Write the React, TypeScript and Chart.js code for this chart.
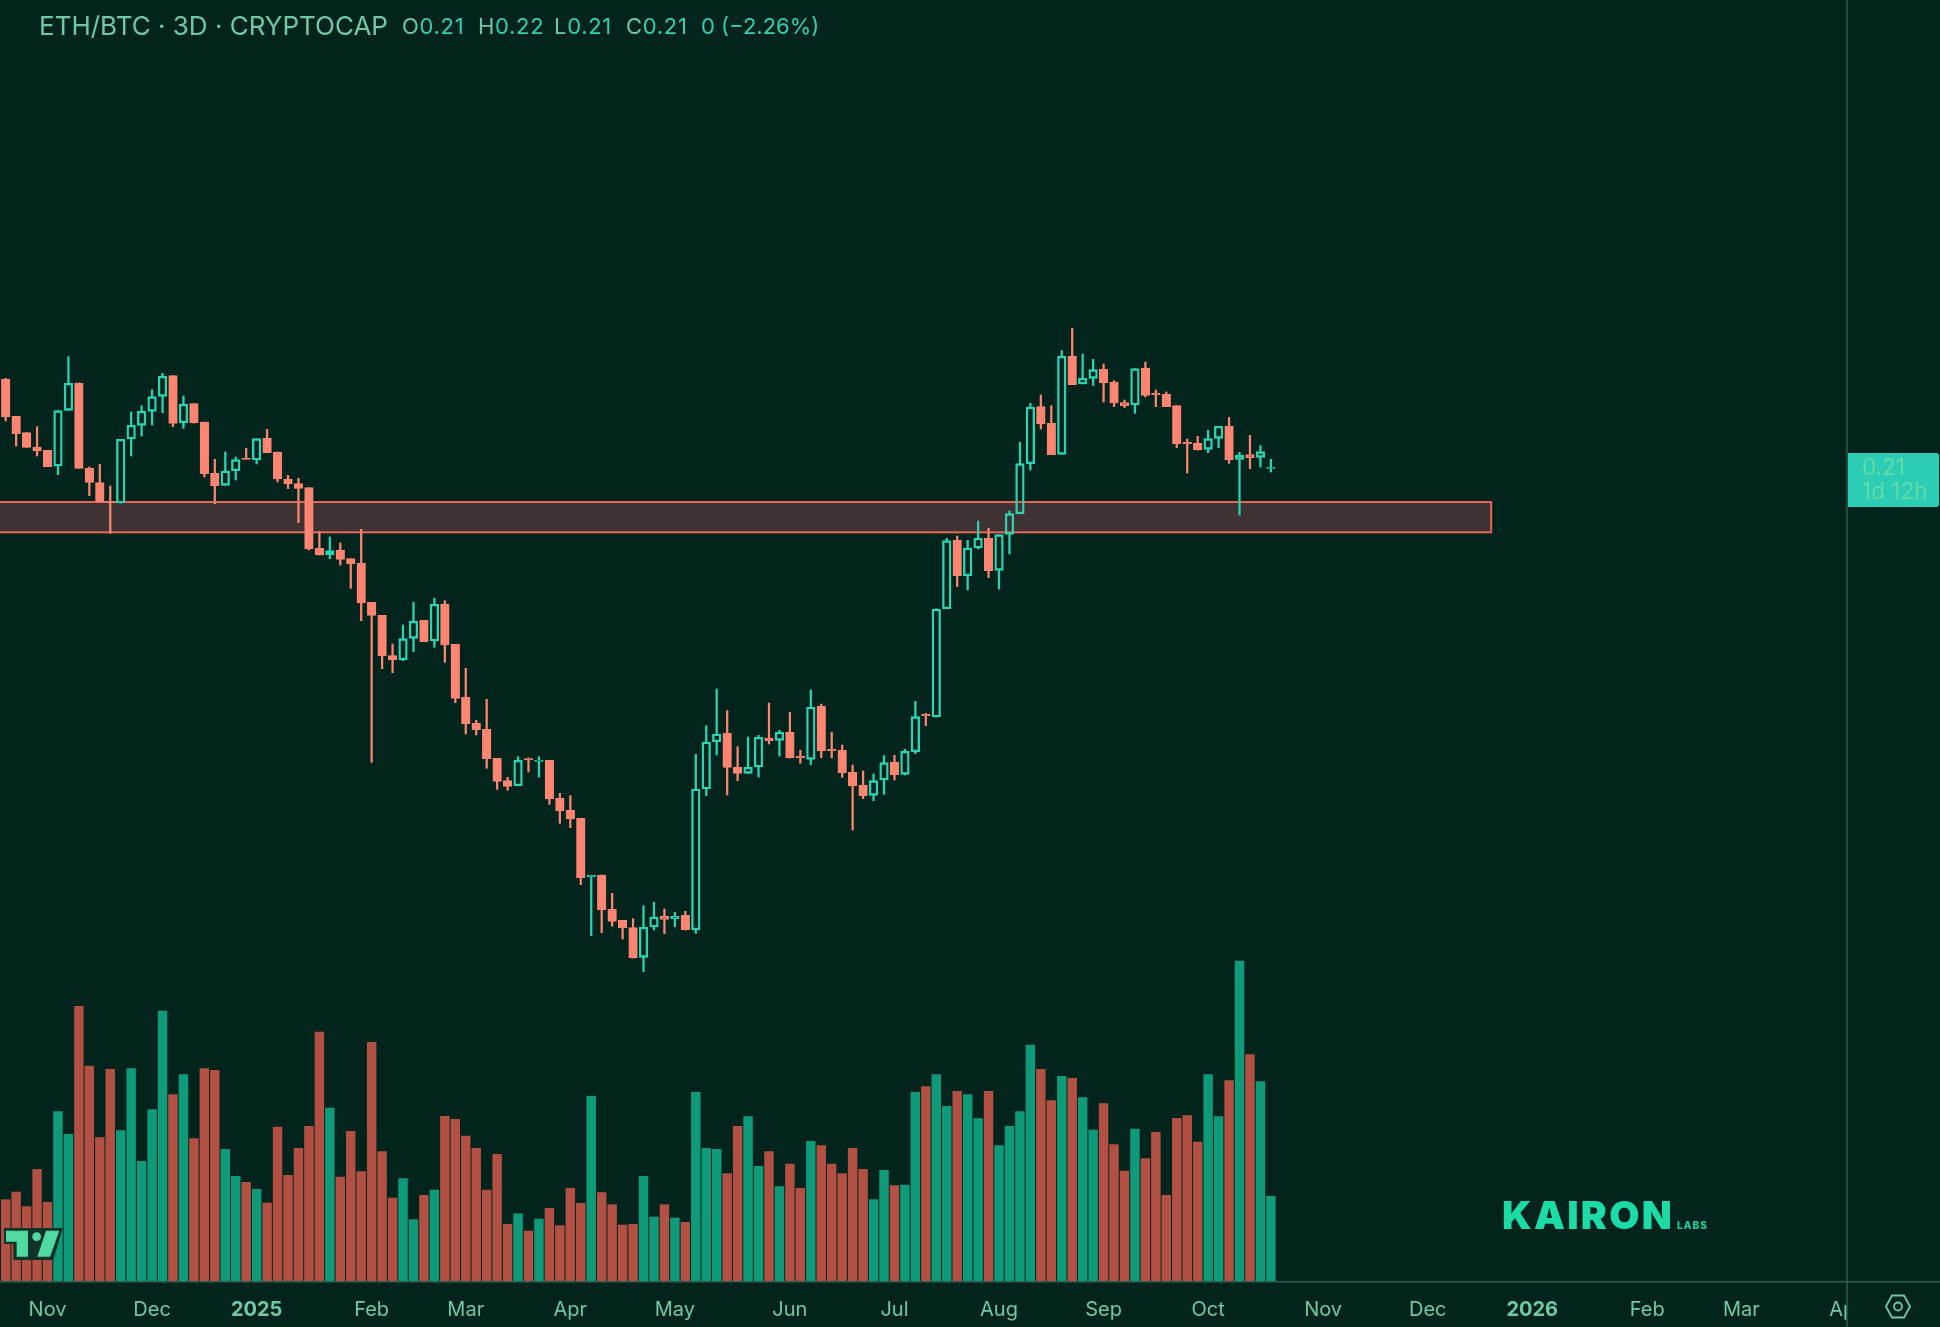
import React, { useEffect, useRef } from 'react';
import { Chart, registerables } from 'chart.js';

Chart.register(...registerables);

const opens = [
  0.2360, 0.2249, 0.2200, 0.2157, 0.2147, 0.2100, 0.2267, 0.2349, 0.2094, 0.2050,
  0.1993, 0.1989, 0.2181, 0.2222, 0.2264, 0.2309, 0.2371, 0.2230, 0.2287, 0.2232,
  0.2078, 0.2042, 0.2086, 0.2124, 0.2118, 0.2184, 0.2142, 0.2061, 0.2047, 0.2035,
  0.1853, 0.1834, 0.1848, 0.1822, 0.1809, 0.1691, 0.1652, 0.1531, 0.1519, 0.1583,
  0.1637, 0.1575, 0.1686, 0.1565, 0.1406, 0.1328, 0.1310, 0.1223, 0.1156, 0.1141,
  0.1222, 0.1214, 0.1217, 0.1104, 0.1067, 0.1043, 0.0867, 0.0873, 0.0770, 0.0737,
  0.0715, 0.0626, 0.0717, 0.0749, 0.0742, 0.0752, 0.0709, 0.1131, 0.1273, 0.1298,
  0.1197, 0.1178, 0.1197, 0.1284, 0.1277, 0.1302, 0.1229, 0.1220, 0.1380, 0.1250,
  0.1247, 0.1181, 0.1143, 0.1112, 0.1158, 0.1212, 0.1175, 0.1243, 0.1355, 0.1347,
  0.1672, 0.1877, 0.1771, 0.1854, 0.1884, 0.1787, 0.1895, 0.1957, 0.2107, 0.2278,
  0.2228, 0.2135, 0.2430, 0.2346, 0.2363, 0.2390, 0.2352, 0.2290, 0.2283, 0.2394,
  0.2319, 0.2315, 0.2281, 0.2171, 0.2168, 0.2150, 0.2183, 0.2220, 0.2120, 0.2134,
  0.2126, 0.2093,
];
const highs = [
  0.2363, 0.2249, 0.2200, 0.2218, 0.2147, 0.2266, 0.2428, 0.2349, 0.2097, 0.2105,
  0.2040, 0.2180, 0.2262, 0.2281, 0.2329, 0.2378, 0.2371, 0.2310, 0.2287, 0.2232,
  0.2120, 0.2142, 0.2127, 0.2153, 0.2182, 0.2210, 0.2142, 0.2072, 0.2063, 0.2035,
  0.1903, 0.1887, 0.1869, 0.1822, 0.1910, 0.1691, 0.1652, 0.1566, 0.1623, 0.1691,
  0.1637, 0.1703, 0.1696, 0.1565, 0.1493, 0.1337, 0.1400, 0.1223, 0.1166, 0.1228,
  0.1224, 0.1228, 0.1217, 0.1118, 0.1111, 0.1043, 0.0872, 0.0873, 0.0818, 0.0737,
  0.0742, 0.0781, 0.0791, 0.0771, 0.0761, 0.0764, 0.1235, 0.1321, 0.1431, 0.1366,
  0.1258, 0.1287, 0.1292, 0.1389, 0.1307, 0.1361, 0.1247, 0.1428, 0.1386, 0.1301,
  0.1263, 0.1203, 0.1185, 0.1176, 0.1231, 0.1232, 0.1250, 0.1394, 0.1358, 0.1672,
  0.1883, 0.1890, 0.1877, 0.1935, 0.1913, 0.1894, 0.1965, 0.2171, 0.2288, 0.2313,
  0.2281, 0.2446, 0.2513, 0.2436, 0.2420, 0.2406, 0.2356, 0.2298, 0.2392, 0.2412,
  0.2328, 0.2322, 0.2281, 0.2181, 0.2189, 0.2207, 0.2219, 0.2246, 0.2141, 0.2192,
  0.2161, 0.2120,
];
const lows = [
  0.2235, 0.2160, 0.2156, 0.2130, 0.2098, 0.2074, 0.2267, 0.2093, 0.2011, 0.1992,
  0.1898, 0.1989, 0.2130, 0.2190, 0.2223, 0.2260, 0.2218, 0.2213, 0.2229, 0.2067,
  0.1987, 0.2042, 0.2058, 0.2120, 0.2106, 0.2140, 0.2052, 0.2032, 0.1930, 0.1848,
  0.1833, 0.1822, 0.1803, 0.1733, 0.1636, 0.1211, 0.1492, 0.1480, 0.1516, 0.1543,
  0.1573, 0.1556, 0.1511, 0.1390, 0.1296, 0.1293, 0.1193, 0.1130, 0.1127, 0.1141,
  0.1182, 0.1167, 0.1085, 0.1028, 0.1015, 0.0844, 0.0691, 0.0700, 0.0719, 0.0681,
  0.0624, 0.0583, 0.0708, 0.0697, 0.0718, 0.0708, 0.0698, 0.1111, 0.1233, 0.1113,
  0.1156, 0.1178, 0.1167, 0.1266, 0.1230, 0.1224, 0.1208, 0.1204, 0.1225, 0.1224,
  0.1166, 0.1008, 0.1102, 0.1096, 0.1115, 0.1158, 0.1173, 0.1237, 0.1321, 0.1347,
  0.1672, 0.1738, 0.1728, 0.1851, 0.1765, 0.1731, 0.1836, 0.1957, 0.2088, 0.2211,
  0.2134, 0.2135, 0.2344, 0.2346, 0.2342, 0.2292, 0.2278, 0.2275, 0.2258, 0.2307,
  0.2278, 0.2278, 0.2155, 0.2079, 0.2148, 0.2140, 0.2155, 0.2108, 0.1953, 0.2092,
  0.2097, 0.2082,
];
const closes = [
  0.2247, 0.2197, 0.2156, 0.2145, 0.2098, 0.2266, 0.2348, 0.2093, 0.2051, 0.1992,
  0.1990, 0.2180, 0.2222, 0.2264, 0.2308, 0.2369, 0.2228, 0.2285, 0.2229, 0.2077,
  0.2041, 0.2085, 0.2119, 0.2120, 0.2182, 0.2140, 0.2061, 0.2046, 0.2033, 0.1851,
  0.1833, 0.1846, 0.1820, 0.1807, 0.1689, 0.1652, 0.1530, 0.1519, 0.1582, 0.1634,
  0.1573, 0.1685, 0.1563, 0.1403, 0.1327, 0.1309, 0.1222, 0.1154, 0.1139, 0.1217,
  0.1218, 0.1218, 0.1101, 0.1065, 0.1041, 0.0865, 0.0872, 0.0769, 0.0734, 0.0714,
  0.0624, 0.0716, 0.0747, 0.0740, 0.0749, 0.0708, 0.1131, 0.1272, 0.1296, 0.1196,
  0.1178, 0.1196, 0.1286, 0.1276, 0.1301, 0.1224, 0.1224, 0.1377, 0.1245, 0.1246,
  0.1180, 0.1140, 0.1111, 0.1156, 0.1210, 0.1174, 0.1244, 0.1348, 0.1350, 0.1670,
  0.1876, 0.1771, 0.1854, 0.1883, 0.1786, 0.1894, 0.1957, 0.2107, 0.2277, 0.2226,
  0.2134, 0.2429, 0.2344, 0.2363, 0.2389, 0.2350, 0.2289, 0.2281, 0.2392, 0.2312,
  0.2314, 0.2278, 0.2166, 0.2167, 0.2148, 0.2182, 0.2219, 0.2119, 0.2133, 0.2125,
  0.2143, 0.2096,
];
const volumes = [
  24.4, 26.7, 22.3, 33.5, 23.6, 50.8, 44.0, 82.4, 64.5, 43.0,
  63.5, 45.1, 63.7, 35.9, 51.4, 81.0, 55.9, 61.9, 42.7, 63.7,
  63.2, 39.5, 31.4, 29.6, 27.5, 23.4, 46.2, 31.7, 39.8, 46.4,
  74.7, 51.9, 31.2, 44.9, 32.8, 71.6, 38.8, 24.9, 30.7, 18.4,
  25.7, 27.3, 49.4, 48.5, 43.5, 39.8, 27.3, 38.0, 17.0, 20.2,
  15.0, 18.6, 21.8, 16.6, 27.8, 23.3, 55.4, 26.5, 22.9, 16.8,
  17.0, 31.4, 19.2, 22.9, 18.9, 17.6, 56.6, 39.8, 39.5, 32.2,
  46.4, 49.3, 34.4, 38.8, 28.3, 35.1, 27.8, 41.9, 40.6, 35.1,
  32.2, 39.8, 33.5, 24.4, 33.2, 28.6, 28.8, 56.6, 58.3, 61.9,
  52.4, 56.9, 55.9, 48.7, 56.9, 40.6, 46.4, 50.8, 70.8, 63.5,
  54.1, 61.4, 60.8, 55.0, 45.3, 53.2, 40.9, 33.0, 45.6, 36.7,
  44.6, 25.7, 48.8, 49.6, 41.7, 61.9, 49.3, 60.1, 96.0, 67.9,
  59.8, 25.4,
];

// candle index of each month label on the time axis
const monthTicks = [4, 14, 24, 35, 44, 54, 64, 75, 85, 95, 105, 115, 126, 136, 146, 157, 166, 176];
const monthLabels = ['Nov', 'Dec', '2025', 'Feb', 'Mar', 'Apr', 'May', 'Jun', 'Jul', 'Aug', 'Sep', 'Oct', 'Nov', 'Dec', '2026', 'Feb', 'Mar', 'Apr'];
const yearTicks = [24, 146];

// the support zone drawn across the chart
const zoneTop = 0.1992;
const zoneBottom = 0.1901;
const zoneEnd = 142.07;

const BG = '#02241c';
const UP = '#2bd3b3';
const DOWN = '#fd8572';
const VOL_UP = '#0f9b7a';
const VOL_DOWN = '#b25044';
const LINE = '#2e5e52';
const TEXT = '#70c8a6';
const FONT = 'Inter, sans-serif';

const isUp = (i: number) => closes[i] >= opens[i];
const candleColors = opens.map((_, i) => (isUp(i) ? UP : DOWN));

const zonePlugin = {
  id: 'zone',
  beforeDatasetsDraw(chart: any) {
    const { ctx, scales, chartArea } = chart;
    const top = scales.y.getPixelForValue(zoneTop);
    const bottom = scales.y.getPixelForValue(zoneBottom);
    const right = scales.x.getPixelForValue(zoneEnd);
    ctx.save();
    ctx.fillStyle = '#3e3232';
    ctx.strokeStyle = '#f2685a';
    ctx.lineWidth = 1.9;
    ctx.fillRect(chartArea.left - 5, top, right - chartArea.left + 5, bottom - top);
    ctx.strokeRect(chartArea.left - 5, top, right - chartArea.left + 5, bottom - top);
    ctx.restore();
  },
};

// price gutter, axis lines, logo and settings icon
const framePlugin = {
  id: 'frame',
  afterDraw(chart: any) {
    const { ctx, chartArea, width, height } = chart;
    const gx = chartArea.right;
    ctx.save();
    ctx.fillStyle = BG;
    ctx.fillRect(gx, 0, width - gx, height);
    ctx.strokeStyle = LINE;
    ctx.lineWidth = 1.4;
    ctx.beginPath();
    ctx.moveTo(0, chartArea.bottom + 0.7);
    ctx.lineTo(width, chartArea.bottom + 0.7);
    ctx.moveTo(gx, 0);
    ctx.lineTo(gx, height);
    ctx.stroke();

    // last price tag
    ctx.fillStyle = '#2ccdb4';
    ctx.beginPath();
    ctx.roundRect(gx + 1, 453, 91, 54, [0, 3, 3, 0]);
    ctx.fill();
    ctx.fillStyle = '#62dba7';
    ctx.font = `22.5px ${FONT}`;
    ctx.textBaseline = 'alphabetic';
    ctx.fillText('0.21', 1862, 475);
    ctx.fillText('1d 12h', 1862, 499);

    // settings icon
    const cx = 1898;
    const cy = 1306.5;
    ctx.strokeStyle = TEXT;
    ctx.lineWidth = 1.8;
    ctx.beginPath();
    [[-12, 0], [-6, -11], [6, -11], [12, 0], [6, 11], [-6, 11]].forEach(([dx, dy], i) => {
      if (i === 0) ctx.moveTo(cx + dx, cy + dy);
      else ctx.lineTo(cx + dx, cy + dy);
    });
    ctx.closePath();
    ctx.stroke();
    ctx.beginPath();
    ctx.arc(cx, cy, 4, 0, Math.PI * 2);
    ctx.stroke();

    // TradingView mark
    const poly = (pts: number[][], fill: string) => {
      ctx.fillStyle = fill;
      ctx.beginPath();
      pts.forEach(([x, y], i) => {
        if (i === 0) ctx.moveTo(x / 3, 1210 + y / 3);
        else ctx.lineTo(x / 3, 1210 + y / 3);
      });
      ctx.closePath();
      ctx.fill();
    };
    poly([[12, 54], [188, 54], [160, 150], [40, 150], [40, 102], [12, 102]], '#0f3229');
    poly([[18, 62], [84, 62], [84, 140], [50, 140], [50, 95], [18, 95]], '#50d9a1');
    poly([[138, 62], [178, 62], [150, 140], [112, 140]], '#50d9a1');
    ctx.fillStyle = '#50d9a1';
    ctx.beginPath();
    ctx.arc(110 / 3, 1210 + 80 / 3, 4.4, 0, Math.PI * 2);
    ctx.fill();
    ctx.restore();
  },
};

const overlay = (left: number, top: number, size: number, color: string, extra: React.CSSProperties = {}) => ({
  position: 'absolute' as const,
  left,
  top,
  fontFamily: FONT,
  fontSize: size,
  lineHeight: 1,
  color,
  whiteSpace: 'nowrap' as const,
  ...extra,
});

const App = () => {
  const chartRef = useRef<HTMLCanvasElement>(null);

  useEffect(() => {
    document.body.style.margin = '0';
    document.body.style.background = BG;

    const candleX = opens.map((_, i) => i);
    const chart = new Chart(chartRef.current as HTMLCanvasElement, {
      type: 'bar',
      data: {
        datasets: [
          {
            label: 'Volume',
            yAxisID: 'volume',
            data: volumes.map((v, i) => ({ x: i, y: v })),
            backgroundColor: opens.map((_, i) => (isUp(i) ? VOL_UP : VOL_DOWN)),
            barThickness: 8.8,
            grouped: false,
          },
          {
            label: 'Upper wick',
            yAxisID: 'y',
            data: candleX.map((i) => ({ x: i, y: [Math.max(opens[i], closes[i]), highs[i]] })),
            backgroundColor: candleColors,
            barThickness: 1.6,
            grouped: false,
          },
          {
            label: 'Lower wick',
            yAxisID: 'y',
            data: candleX.map((i) => ({ x: i, y: [lows[i], Math.min(opens[i], closes[i])] })),
            backgroundColor: candleColors,
            barThickness: 1.6,
            grouped: false,
          },
          {
            label: 'Body',
            yAxisID: 'y',
            data: candleX.map((i) => ({ x: i, y: [opens[i], closes[i]] })),
            backgroundColor: opens.map((_, i) => (isUp(i) ? 'rgba(0,0,0,0)' : DOWN)),
            borderColor: candleColors,
            borderWidth: 1.7,
            borderSkipped: false,
            barThickness: 8.6,
            grouped: false,
          },
        ] as any,
      },
      options: {
        responsive: false,
        animation: false,
        devicePixelRatio: 1,
        layout: { padding: { left: 0, top: 0, right: 93, bottom: 0 } },
        plugins: { legend: { display: false }, tooltip: { enabled: false } },
        scales: {
          x: {
            type: 'linear',
            offset: false,
            min: -0.545,
            max: 176.1,
            grid: { display: false, drawTicks: false, offset: false },
            border: { display: false },
            afterFit: (axis: any) => {
              axis.height = 46;
            },
            afterBuildTicks: (axis: any) => {
              axis.ticks = monthTicks.map((value) => ({ value }));
            },
            ticks: {
              autoSkip: false,
              maxRotation: 0,
              padding: 17,
              color: TEXT,
              font: (ctx: any) => ({
                family: FONT,
                size: 20,
                weight: yearTicks.includes(ctx.tick?.value) ? 'bold' : 'normal',
              }),
              callback: (value: any) => monthLabels[monthTicks.indexOf(value)],
            },
          },
          y: { type: 'linear', display: false, min: -0.0345, max: 0.3498 },
          volume: { type: 'linear', display: false, min: 0, max: 384.3 },
        },
      } as any,
      plugins: [zonePlugin, framePlugin],
    });

    return () => {
      chart.destroy();
    };
  }, []);

  const spaced = { letterSpacing: 0.7 };
  return (
    <div style={{ position: 'absolute', left: 0, top: 0, width: 1940, height: 1327, background: BG, overflow: 'hidden' }}>
      <canvas ref={chartRef} width={1940} height={1327} style={{ display: 'block' }}></canvas>
      <span style={overlay(39, 13, 26, TEXT)}>ETH/BTC · 3D · CRYPTOCAP</span>
      <span style={overlay(402, 15, 22, TEXT, spaced)}>O<span style={{ color: '#33cfb0' }}>0.21</span></span>
      <span style={overlay(478, 15, 22, TEXT, spaced)}>H<span style={{ color: '#33cfb0' }}>0.22</span></span>
      <span style={overlay(554, 15, 22, TEXT, spaced)}>L<span style={{ color: '#33cfb0' }}>0.21</span></span>
      <span style={overlay(626, 15, 22, TEXT, spaced)}>C<span style={{ color: '#33cfb0' }}>0.21</span></span>
      <span style={overlay(701, 15, 22, '#33cfb0')}>0 (−2.26%)</span>
      <span style={overlay(1502, 1195, 39, '#1bdca6', { fontWeight: 900, letterSpacing: 2.3 })}>KAIRON</span>
      <span style={overlay(1677, 1220, 10, '#1bd09c', { fontWeight: 800, letterSpacing: 1.1 })}>LABS</span>
    </div>
  );
};

export default App;
